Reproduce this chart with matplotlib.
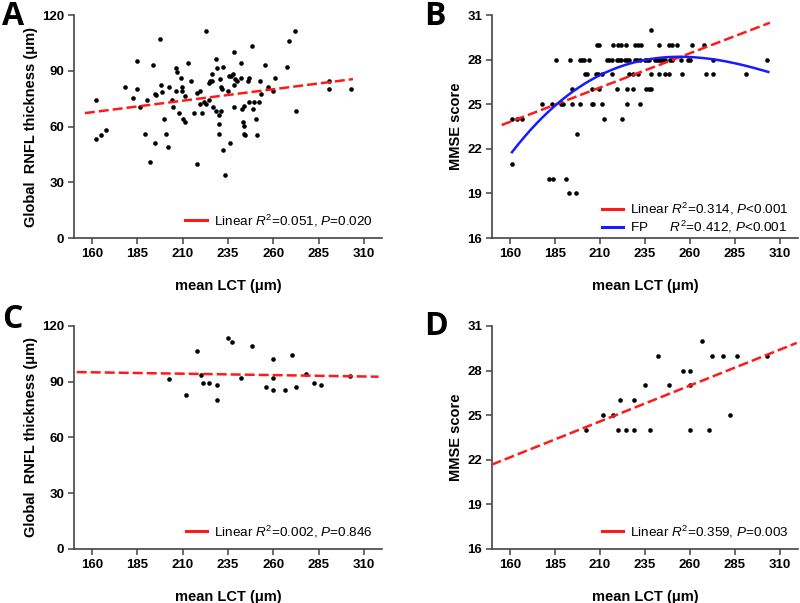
"""
Scatter plots of mean LCT against RNFL thickness and MMSE score (panels A-D).
"""

import numpy as np
import matplotlib
matplotlib.use("Agg")
from matplotlib import pyplot as plt

plt.rcParams["font.family"] = ["Liberation Sans", "DejaVu Sans"]
plt.rcParams["mathtext.fontset"] = "custom"
plt.rcParams["mathtext.rm"] = "Liberation Sans"
plt.rcParams["mathtext.it"] = "Liberation Sans:italic"
plt.rcParams["mathtext.bf"] = "Liberation Sans:bold"

# ---- Panel A: LCT vs RNFL (all subjects)
a_lct = [162, 162, 164.8, 167.4, 178.2, 182.3, 184.5, 184.5, 186.7, 189.3,
         190.4, 192, 193.4, 194.5, 194.7, 195, 197.2, 197.9, 198.6, 199.6,
         200.7, 201.8, 202.5, 204.2, 204.8, 206.3, 206.3, 207, 207.7, 208.8,
         209.6, 209.6, 210.3, 211.4, 211.4, 212.9, 214.7, 216.4, 217.7, 217.9,
         219.5, 219.3, 220.6, 221.9, 222.6, 222.8, 224.3, 224.3, 225.2, 226,
         226.1, 226.5, 228.3, 228.5, 228.8, 229.8, 229.8, 229.8, 230.8, 230.9,
         231.1, 231.9, 232.3, 232.4, 233.6, 235, 235.5, 236.3, 236.7, 237.6,
         238.2, 238.3, 238.5, 238.9, 240.2, 242.2, 242.4, 242.7, 243.5, 243.7,
         243.7, 244.4, 244, 246, 246.4, 246.4, 248.3, 249, 249.6, 250.3,
         251, 252.1, 252.7, 253.1, 255.6, 257.1, 259.7, 261, 267.6, 268.5,
         272.2, 272.8, 290.5, 290.5, 303]
a_rnfl = [74.3, 53.3, 55.4, 58.3, 81.3, 75.3, 80.2, 95.2, 70.3, 56.1,
          74.3, 41.1, 93.3, 50.9, 77.3, 77, 107.3, 82.3, 78.4, 64.2,
          56.1, 49.1, 81.1, 74.3, 70.3, 79.3, 91.3, 89.3, 67.1, 86.3,
          81.1, 79.3, 64.2, 76.2, 62.2, 94.3, 84.3, 67.3, 78.2, 40,
          79.3, 72.3, 67.3, 73.2, 111.2, 72.3, 74.3, 83.4, 84.3, 88.3,
          84.3, 70.3, 68.3, 96.3, 91.3, 61.1, 56.1, 66.2, 85.4, 68.3,
          81.3, 80.4, 47.2, 92.2, 34.1, 79.3, 87.4, 51.1, 87.4, 88.3,
          100.3, 82.3, 70.3, 85.4, 84.3, 86.3, 94.3, 69.2, 62.2, 60.3,
          56.1, 55.2, 71.2, 84.3, 73.2, 86.3, 103.1, 69.2, 73.2, 64.2,
          55.2, 73.2, 84.3, 77.3, 93.3, 81.3, 79.3, 86.3, 92.2, 106.2,
          111.2, 68.2, 84.3, 80.2, 80.2]
a_fit_x = [156, 304]
a_fit_y = [67.2, 85.5]
a_label = "Linear $R^2$=0.051, $P$=0.020"

# ---- Panel B: LCT vs MMSE (all subjects)
b_lct = [238.4,
         208.1, 209.6, 217.4, 220.2, 221.7, 224.7, 229.7, 231.2, 232.7, 242.9,
         248.5, 250, 252.9, 261.3, 267.6,
         185.8, 193.6, 198.7, 199.8, 200.9, 204.1, 214.1, 215.2, 216.5, 219.3,
         220.4, 221.7, 223.9, 225.2, 226.2, 229.5, 230.8, 232.1, 234.9, 236,
         237.1, 240.5, 241.6, 242.9, 244, 245.1, 246.2, 249, 250.1, 255,
         258.7, 260.2, 272.8, 302.9,
         201.6, 202.8, 207.6, 208.7, 210.9, 216.5, 226, 228.2, 231, 238.4,
         242.7, 246.2, 248.3, 255.7, 268.7, 272.8, 290.9,
         194.2, 205.4, 209.3, 219.3, 225.2, 228.6, 235.5, 237.1, 238.4,
         177.5, 183.4, 188.6, 189.2, 194.2, 198.7, 205.4, 206.1, 210.9, 225.2,
         232.1,
         161.3, 164.1, 166.9, 212.2, 222.1,
         197.4,
         161.3,
         181.6, 184, 191.2,
         192.5, 196.6]
b_mmse = ([30] + [29] * 15 + [28] * 34 + [27] * 17 + [26] * 9 + [25] * 11
          + [24] * 5 + [23] + [21] + [20] * 3 + [19] * 2)
b_fit_x = [155.4, 304.4]
b_fit_y = [23.6, 30.48]
# fractional polynomial curve
b_fp_x = [161.1, 191, 209.6, 228.2, 246.8, 261.7, 274.7, 291.4, 303.5]
b_fp_y = [21.74, 25.62, 26.85, 27.75, 28.15, 28.2, 27.97, 27.64, 27.12]
b_label_lin = "Linear $R^2$=0.314, $P$<0.001"
b_label_fp = "FP      $R^2$=0.412, $P$<0.001"

# ---- Panel C: LCT vs RNFL (subgroup)
c_lct = [202.2, 211.6, 217.7, 220.1, 221.4, 224.3, 229.1, 229.1, 234.8, 237.4,
         242.4, 248.4, 256.2, 259.9, 259.9, 259.9, 266.5, 270.2, 272.4, 278.3,
         282.2, 286.1, 302.3]
c_rnfl = [91.3, 83.0, 106.4, 93.5, 89.1, 89.1, 88.4, 80.4, 113.5, 111.4,
          92.2, 109.2, 87.2, 102.2, 92.2, 85.4, 85.4, 104.4, 87.2, 94.3,
          89.3, 88.4, 93.1]
c_fit_x = [151.5, 318.1]
c_fit_y = [95.2, 92.7]
c_label = "Linear $R^2$=0.002, $P$=0.846"

# ---- Panel D: LCT vs MMSE (subgroup)
d_lct = [202.0, 211.5, 217.4, 220.9, 220, 224.4, 229.1, 229.1, 235, 237.6,
         242.4, 248.5, 256.3, 260, 260, 260, 266.5, 270.6, 272.4, 278.3,
         282.2, 285.9, 302.6]
d_mmse = [24, 25, 25, 26, 24, 24, 26, 24, 27, 24,
          29, 27, 28, 28, 27, 24, 30, 24, 29, 29,
          25, 29, 29]
d_fit_x = [149.8, 319.3]
d_fit_y = [21.67, 29.86]
d_label = "Linear $R^2$=0.359, $P$=0.003"

x_ticks = [160, 185, 210, 235, 260, 285, 310]
rnfl_ticks = [0, 30, 60, 90, 120]
mmse_ticks = [16, 19, 22, 25, 28, 31]

RED = "#ff1a1a"
BLUE = "#1a1aff"


def _style_axes(ax, yticks, ylabel):
    """Eixos no estilo GraphPad: só esquerda e baixo, ticks para fora."""
    for side in ["top", "right"]:
        ax.spines[side].set_visible(False)
    for side in ["left", "bottom"]:
        ax.spines[side].set_color("#444444")
        ax.spines[side].set_linewidth(1.2)
    ax.set_xlim(150, 320)
    ax.set_ylim(yticks[0], yticks[-1])
    ax.set_xticks(x_ticks)
    ax.set_yticks(yticks)
    ax.tick_params(direction="out", length=4, width=1.1, color="#444444",
                   labelsize=9.5, pad=3)
    for lbl in ax.get_xticklabels() + ax.get_yticklabels():
        lbl.set_fontweight("bold")
    ax.set_xlabel("mean LCT (\u03bcm)", fontsize=10.5, fontweight="bold",
                  labelpad=14)
    ax.set_ylabel(ylabel, fontsize=10.5, fontweight="bold", labelpad=3)


def _scatter(ax, x, y):
    ax.plot(x, y, "o", color="black", markersize=3.3, markeredgewidth=0,
            zorder=3)


def _fit_line(ax, x, y, label):
    ax.plot(x, y, color=RED, linewidth=1.8, dashes=(4, 1.6), label=label,
            zorder=4)


def _legend(ax, **kw):
    opts = dict(loc="lower right", frameon=False, fontsize=9.7,
                handlelength=1.6, handletextpad=0.5, borderaxespad=0.3,
                labelspacing=0.4)
    opts.update(kw)
    leg = ax.legend(**opts)
    for h in leg.legend_handles:
        h.set_linestyle("-")
        h.set_linewidth(2.2)


fig = plt.figure(figsize=(8, 6.03), dpi=100)
fig.patch.set_facecolor("white")

ax_a = fig.add_axes([0.0925, 0.6053, 0.385, 0.3698])
ax_b = fig.add_axes([0.615, 0.6053, 0.3825, 0.3698])
ax_c = fig.add_axes([0.0925, 0.0896, 0.385, 0.3698])
ax_d = fig.add_axes([0.615, 0.0896, 0.3825, 0.3698])

rnfl_label = "Global  RNFL thickness (\u03bcm)"

# A
_scatter(ax_a, a_lct, a_rnfl)
_fit_line(ax_a, a_fit_x, a_fit_y, a_label)
_style_axes(ax_a, rnfl_ticks, rnfl_label)
_legend(ax_a)

# B
_scatter(ax_b, b_lct, b_mmse)
_fit_line(ax_b, b_fit_x, b_fit_y, b_label_lin)
fp_coef = np.polyfit(b_fp_x, b_fp_y, 3)
fp_xs = np.linspace(b_fp_x[0], b_fp_x[-1], 200)
ax_b.plot(fp_xs, np.polyval(fp_coef, fp_xs), color=BLUE, linewidth=1.8,
          label=b_label_fp, zorder=4)
_style_axes(ax_b, mmse_ticks, "MMSE score")
_legend(ax_b, labelspacing=0.15, bbox_to_anchor=(1.0, -0.03))

# C
_scatter(ax_c, c_lct, c_rnfl)
_fit_line(ax_c, c_fit_x, c_fit_y, c_label)
_style_axes(ax_c, rnfl_ticks, rnfl_label)
_legend(ax_c)

# D
_scatter(ax_d, d_lct, d_mmse)
_fit_line(ax_d, d_fit_x, d_fit_y, d_label)
_style_axes(ax_d, mmse_ticks, "MMSE score")
_legend(ax_d)

# letras dos painéis
for letter, (x, y) in zip("ABCD", [(0.003, 0.972), (0.530, 0.972),
                                   (0.003, 0.470), (0.530, 0.459)]):
    fig.text(x, y, letter, fontsize=23, fontweight="bold",
             family=["Open Sans", "DejaVu Sans"], va="center", ha="left")

fig.savefig("out.png", dpi=100, facecolor="white")
plt.close(fig)
